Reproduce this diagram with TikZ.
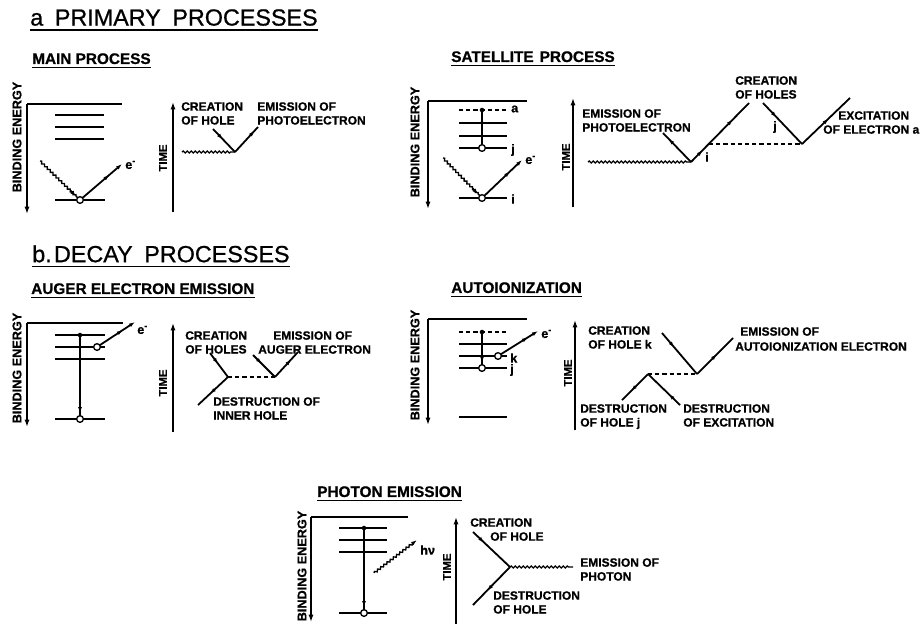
\documentclass[tikz,border=0pt]{standalone}
\usepackage{fontspec}
\setmainfont{Liberation Sans}[FakeBold=0.8]
\usetikzlibrary{arrows.meta,decorations.pathmorphing,decorations.markings,calc}
\begin{document}
\begin{tikzpicture}[x=0.75pt,y=-0.75pt,
 ln/.style={line width=1.35pt},
 lvl/.style={line width=1.35pt},
 axis/.style={line width=1.35pt,-{Latex[length=5.5pt,width=3.8pt]}},
 tip/.style={-{Latex[length=4.5pt,width=3pt]}},
 midarr/.style={postaction={decorate},decoration={markings,mark=at position #1 with {\arrow{Latex[length=4.5pt,width=3pt]}}}},
 revarr/.style={postaction={decorate},decoration={markings,mark=at position #1 with {\arrowreversed{Latex[length=4.5pt,width=3pt]}}}},
 arrtwo/.style 2 args={postaction={decorate},decoration={markings,mark=at position #1 with {\arrow{Latex[length=4.5pt,width=3pt]}},mark=at position #2 with {\arrow{Latex[length=4.5pt,width=3pt]}}}},
 wavy/.style={line width=1pt,decorate,decoration={snake,amplitude=0.75pt,segment length=3pt,post length=3pt}},
 dsh/.style={line width=1pt,dash pattern=on 3.2pt off 2.2pt},
 hole/.style={circle,draw,fill=white,inner sep=0pt,minimum size=5pt,line width=1pt},
 el/.style={circle,fill,inner sep=0pt,minimum size=3.4pt},
 lab/.style={font=\bfseries\fontsize{9}{10.4}\selectfont,align=left,inner sep=0pt,anchor=north west},
 sm/.style={font=\bfseries\fontsize{9.5}{10}\selectfont,inner sep=0pt},
 rot/.style={font=\bfseries\fontsize{9.5}{10}\selectfont,rotate=90,inner sep=0pt},
 rtime/.style={font=\bfseries\fontsize{8.5}{9}\selectfont,rotate=90,inner sep=0pt},
 ttl/.style={font=\fontsize{17.5}{20}\selectfont,inner sep=0pt,anchor=north west},
 sub/.style={font=\bfseries\fontsize{11.5}{13}\selectfont,inner sep=0pt,anchor=north west},
 ul/.style={line width=1.1pt}
]
\fill[white] (0,0) rectangle (923,626);
\useasboundingbox (0,0) rectangle (923,626);

% ---------------- titles
\node[ttl] (ta) at (30,9) {a\hspace{0.5em}PRIMARY\hspace{0.5em}PROCESSES};
\draw[ul] ([yshift=-3pt]ta.south west) -- ([yshift=-3pt]ta.south east);
\node[sub] (tm) at (32,53) {MAIN PROCESS};
\draw[ul] ([yshift=-2.2pt]tm.south west) -- ([yshift=-2.2pt]tm.south east);
\node[sub] (ts) at (451,51) {SATELLITE\hspace{0.4em}PROCESS};
\draw[ul] ([yshift=-2.2pt]ts.south west) -- ([yshift=-2.2pt]ts.south east);
\node[ttl] (tb) at (32,245) {b.\hspace{0.1em}DECAY\hspace{0.5em}PROCESSES};
\draw[ul] ([yshift=-3pt]tb.south west) -- ([yshift=-3pt]tb.south east);
\node[sub] (tau) at (31,283) {AUGER ELECTRON EMISSION};
\draw[ul] ([yshift=-2.2pt]tau.south west) -- ([yshift=-2.2pt]tau.south east);
\node[sub] (tai) at (451,282) {AUTOIONIZATION};
\draw[ul] ([yshift=-2.2pt]tai.south west) -- ([yshift=-2.2pt]tai.south east);
\node[sub] (tp) at (317,486) {PHOTON EMISSION};
\draw[ul] ([yshift=-2.2pt]tp.south west) -- ([yshift=-2.2pt]tp.south east);

% ---------------- main process, energy
\coordinate (me0) at (27,104);
\coordinate (me1) at (27,214);
\draw[axis] (me0) -- (me1);
\draw[ln] (me0) -- (122,104);
\foreach \y in {115,127,139} \draw[lvl] (55,\y) -- (104,\y);
\draw[lvl] (55,200) -- (105,200);
\coordinate (mw) at (40,161);
\coordinate (mc) at (80,200);
\coordinate (me) at (122,164);
\draw[wavy] (mw) -- (mc);
\draw[ln,tip] ($(mc)!10pt!(mw)$) -- ($(mc)!4pt!(mw)$);
\draw[ln,midarr=0.7,tip] (mc) -- (me);
\node[sm,anchor=west] at (125,165) {e\textsuperscript{-}};
\node[hole] at (mc) {};
\node[rot] at (17,137) {BINDING ENERGY};

% ---------------- main process, time
\coordinate (mt0) at (173,212);
\coordinate (mt1) at (173,102);
\draw[axis] (mt0) -- (mt1);
\node[rtime] at (163,158) {TIME};
\coordinate (mv) at (235,152);
\draw[wavy] (182,152) -- (mv);
\draw[ln,midarr=0.45] (213,129) -- (mv);
\draw[ln,midarr=0.85] (mv) -- (258,127);
\node[lab] at (181,102) {CREATION\\OF HOLE};
\node[lab] at (257,102) {EMISSION OF\\PHOTOELECTRON};

% ---------------- satellite, energy
\draw[axis] (428,101) -- (428,209);
\draw[ln] (428,101) -- (527,101);
\draw[dsh] (459,110) -- (507,110);
\foreach \y in {123,136,148} \draw[lvl] (459,\y) -- (507,\y);
\draw[lvl] (459,198) -- (507,198);
\node[sm,anchor=west] at (511,109) {a};
\node[sm,anchor=west] at (511,150) {j};
\node[sm,anchor=west] at (511,199) {i};
\coordinate (sa) at (482,110);
\coordinate (sj) at (482,148);
\coordinate (si) at (482,198);
\coordinate (sw) at (443,158);
\coordinate (se) at (522,160);
\draw[ln,midarr=0.8] (sj) -- (sa);
\draw[wavy] (sw) -- (si);
\draw[ln,tip] ($(si)!10pt!(sw)$) -- ($(si)!4pt!(sw)$);
\draw[ln,midarr=0.7,tip] (si) -- (se);
\node[sm,anchor=west] at (525,160) {e\textsuperscript{-}};
\node[el] at (sa) {};
\node[hole] at (sj) {};
\node[hole] at (si) {};
\node[rot] at (415,142) {BINDING ENERGY};

% ---------------- satellite, time
\draw[axis] (573,207) -- (573,98);
\node[rtime] at (566,157) {TIME};
\coordinate (sv1) at (691,162);
\coordinate (sv2) at (802,144);
\coordinate (sx) at (709,144);
\draw[wavy] (588,162) -- (sv1);
\draw[ln,revarr=0.2] (663,133) -- (sv1);
\draw[ln,arrtwo={0.2}{0.72}] (sv1) -- (749,103);
\draw[dsh] (sx) -- (sv2);
\draw[ln,midarr=0.35] (763,103) -- (sv2);
\draw[ln,midarr=0.55] (sv2) -- (850,98);
\node[sm,anchor=west] at (705,157) {i};
\node[sm,anchor=west] at (773,127) {j};
\node[lab] at (735,76) {CREATION\\OF HOLES};
\node[lab] at (582,109) {EMISSION OF\\PHOTOELECTRON};
\node[lab] at (838,111) {EXCITATION};
\node[lab] at (823,125) {OF ELECTRON a};

% ---------------- auger, energy
\draw[axis] (27,323) -- (27,427);
\draw[ln] (27,323) -- (123,323);
\foreach \y in {335,347,359,419} \draw[lvl] (55,\y) -- (105,\y);
\coordinate (ae1) at (80,335);
\coordinate (ae2) at (80,419);
\coordinate (ak) at (97,347);
\coordinate (aee) at (135,322);
\draw[ln,midarr=0.93] (ae1) -- (ae2);
\draw[ln,midarr=0.68,tip] (ak) -- (aee);
\node[sm,anchor=west] at (137,330) {e\textsuperscript{-}};
\node[el] at (ae1) {};
\node[hole] at (ae2) {};
\node[hole] at (ak) {};
\node[rot] at (17,368) {BINDING ENERGY};

% ---------------- auger, time
\draw[axis] (173,432) -- (173,323);
\node[rtime] at (163,383) {TIME};
\coordinate (av1) at (228,377);
\coordinate (av2) at (275,377);
\draw[ln,midarr=0.45] (210,353) -- (av1);
\draw[dsh] (av1) -- (av2);
\draw[ln,midarr=0.4] (253,355) -- (av2);
\draw[ln,midarr=0.7] (av2) -- (298,352);
\draw[ln,midarr=0.6] (av1) -- (198,405);
\node[lab] at (185,331) {CREATION\\OF HOLES};
\node[lab] at (273,331) {EMISSION OF};
\node[lab] at (258,345) {AUGER ELECTRON};
\node[lab] at (213,397) {DESTRUCTION OF\\INNER HOLE};

% ---------------- autoionization, energy
\draw[axis] (428,319) -- (428,425);
\draw[ln] (428,319) -- (527,319);
\draw[dsh] (459,332) -- (507,332);
\foreach \y in {344,356,368,417} \draw[lvl] (459,\y) -- (507,\y);
\coordinate (ia) at (482,332);
\coordinate (ij) at (482,368);
\coordinate (ik) at (498,356);
\coordinate (iee) at (538,331);
\draw[ln,midarr=0.85] (ia) -- (ij);
\draw[ln,midarr=0.75,tip] (ik) -- (iee);
\node[sm,anchor=west] at (541,334) {e\textsuperscript{-}};
\node[sm,anchor=west] at (510,358) {k};
\node[sm,anchor=west] at (510,370) {j};
\node[el] at (ia) {};
\node[hole] at (ij) {};
\node[hole] at (ik) {};
\node[rot] at (415,365) {BINDING ENERGY};

% ---------------- autoionization, time
\draw[axis] (575,430) -- (575,320);
\node[rtime] at (568,373) {TIME};
\coordinate (iv0) at (648,374);
\coordinate (iv1) at (697,374);
\draw[ln,midarr=0.35] (662,333) -- (iv1);
\draw[ln,midarr=0.55] (iv1) -- (733,338);
\draw[dsh] (iv0) -- (iv1);
\draw[ln,revarr=0.35] (622,400) -- (iv0);
\draw[ln,revarr=0.65] (iv0) -- (680,405);
\node[lab] at (588,326) {CREATION\\OF HOLE k};
\node[lab] at (740,327) {EMISSION OF};
\node[lab] at (735,342) {AUTOIONIZATION ELECTRON};
\node[lab] at (580,404) {DESTRUCTION\\OF HOLE j};
\node[lab] at (683,404) {DESTRUCTION\\OF EXCITATION};

% ---------------- photon emission, energy
\draw[axis] (311,517) -- (311,622);
\draw[ln] (311,517) -- (408,517);
\foreach \y in {528,540,552,613} \draw[lvl] (339,\y) -- (387,\y);
\coordinate (pa) at (364,528);
\coordinate (pb) at (364,613);
\coordinate (pw1) at (374,573);
\coordinate (pw2) at (417,540);
\draw[ln,midarr=0.93] (pa) -- (pb);
\draw[wavy,tip] (pw1) -- (pw2);
\node[sm,anchor=west] at (420,550) {hν};
\node[el] at (pa) {};
\node[hole] at (pb) {};
\node[rot] at (302,566) {BINDING ENERGY};

% ---------------- photon emission, time
\draw[axis] (456,624) -- (456,517);
\node[rtime] at (447,567) {TIME};
\coordinate (pv) at (510,567);
\draw[ln,midarr=0.3] (473,532) -- (pv);
\draw[ln,midarr=0.62] (pv) -- (473,605);
\draw[wavy] (pv) -- (573,567);
\node[lab] at (470,518) {CREATION};
\node[lab] at (490,532) {OF HOLE};
\node[lab] at (580,558) {EMISSION OF\\PHOTON};
\node[lab] at (493,591) {DESTRUCTION\\OF HOLE};
\end{tikzpicture}
\end{document}
